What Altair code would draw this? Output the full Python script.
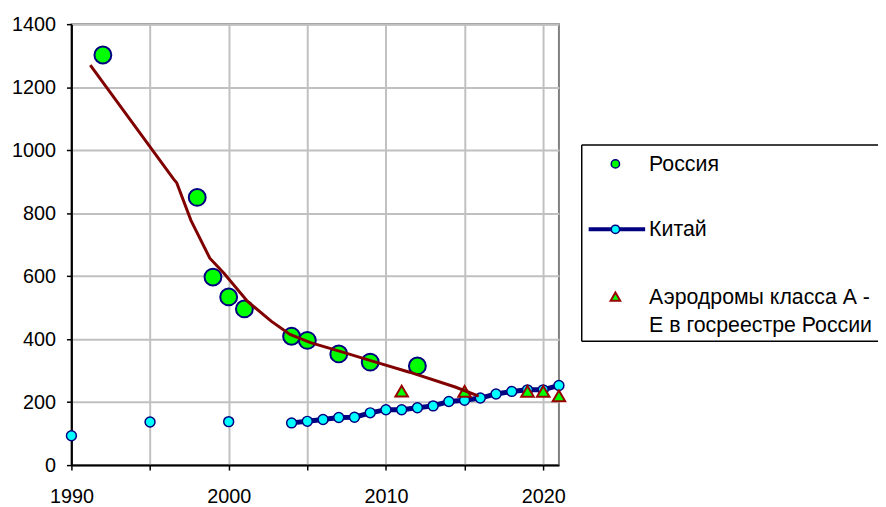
import altair as alt
import pandas as pd

# Russia (points)
russia_years = [1992, 1998, 1999, 2000, 2001, 2004, 2005, 2007, 2009, 2012]
russia_values = [1302, 850, 597, 534, 496, 409, 396, 353, 327, 315]

# Russia trend line
trend_years = [1991.2, 1996.5, 1996.7, 1997.6, 1998.8, 1999.7, 2001.2, 2002.7,
               2003.9, 2005.2, 2007.3, 2009.4, 2011.5, 2014.4, 2015.9]
trend_values = [1270, 908, 896, 777, 657, 609, 520, 457,
                415, 389, 358, 326, 295, 248, 219]

# China
china_years = [1990, 1995, 2000, 2004, 2005, 2006, 2007, 2008, 2009, 2010, 2011, 2012,
               2013, 2014, 2015, 2016, 2017, 2018, 2019, 2020, 2021]
china_values = [93, 137, 138, 134, 139, 145, 151, 152, 166, 176, 176, 182,
                188, 202, 206, 213, 226, 234, 239, 239, 253]

# Aerodromes class A-E
aero_years = [2011, 2015, 2019, 2020, 2021]
aero_values = [235, 234, 234, 234, 220]

legend_labels = ["Россия", "Китай", "Аэродромы класса А -", "Е в госреестре России"]

FONT = "Liberation Sans"
FS = 20
LFS = 21.5
NAVY = "#000080"
LX = 2  # legend horizontal offset

russia_df = pd.DataFrame({"year": russia_years, "value": russia_values})
trend_df = pd.DataFrame({"year": trend_years, "value": trend_values})
china_df = pd.DataFrame({"year": china_years, "value": china_values})
aero_df = pd.DataFrame({"year": aero_years, "value": aero_values})

xenc = alt.X("year:Q",
             scale=alt.Scale(domain=[1990, 2021], nice=False, zero=False),
             axis=alt.Axis(values=[1990, 1995, 2000, 2005, 2010, 2015, 2020], format="d",
                           labelExpr="datum.value % 10 == 0 ? datum.label : ''",
                           labelFlush=False, labelOverlap=False,
                           title=None, labelPadding=17))
yenc = alt.Y("value:Q",
             scale=alt.Scale(domain=[0, 1400], nice=False),
             axis=alt.Axis(values=list(range(0, 1401, 200)), format="d", title=None,
                           labelPadding=11, labelFlush=False, labelOverlap=False))

russia = alt.Chart(russia_df).mark_point(
    shape="circle", filled=True, fill="#00ff00", stroke=NAVY, strokeWidth=2, size=290, opacity=1
).encode(x=xenc, y=yenc)

china_line = alt.Chart(china_df).transform_filter("datum.year >= 2004").mark_line(
    color=NAVY, strokeWidth=5
).encode(x=xenc, y=yenc)

china_pts = alt.Chart(china_df).mark_point(
    shape="circle", filled=True, fill="#00ffff", stroke=NAVY, strokeWidth=1.5, size=100, opacity=1
).encode(x=xenc, y=yenc)

aero = alt.Chart(aero_df).mark_point(
    shape="triangle-up", filled=True, fill="#00ff00", stroke="#990000", strokeWidth=2, size=160, opacity=1
).encode(x=xenc, y=yenc)

trend = alt.Chart(trend_df).mark_line(color="#800000", strokeWidth=3).encode(x=xenc, y=yenc)

# manual legend (box open on the right, as it runs past the picture edge)
one = pd.DataFrame({"k": [0]})
box_l = alt.Chart(one).mark_rule(color="black", strokeWidth=1.5).encode(
    x=alt.value(513 + LX), y=alt.value(122), y2=alt.value(320))
box_t = alt.Chart(one).mark_rule(color="black", strokeWidth=1.5).encode(
    x=alt.value(513 + LX), x2=alt.value(900), y=alt.value(122))
box_b = alt.Chart(one).mark_rule(color="black", strokeWidth=1.5).encode(
    x=alt.value(513 + LX), x2=alt.value(900), y=alt.value(320))
leg_r = alt.Chart(one).mark_point(shape="circle", filled=True, fill="#00ff00", stroke=NAVY,
                                  strokeWidth=1.5, size=70, opacity=1).encode(
    x=alt.value(547 + LX), y=alt.value(141))
leg_cl = alt.Chart(one).mark_rule(color=NAVY, strokeWidth=4).encode(
    x=alt.value(520 + LX), x2=alt.value(577 + LX), y=alt.value(207))
leg_cp = alt.Chart(one).mark_point(shape="circle", filled=True, fill="#00ffff", stroke=NAVY,
                                   strokeWidth=1.5, size=70, opacity=1).encode(
    x=alt.value(547 + LX), y=alt.value(207))
leg_a = alt.Chart(one).mark_point(shape="triangle-up", filled=True, fill="#00ff00", stroke="#990000",
                                  strokeWidth=2, size=95, opacity=1).encode(
    x=alt.value(547 + LX), y=alt.value(275))


def txt(label, y):
    return alt.Chart(one).mark_text(align="left", baseline="middle", font=FONT, fontSize=LFS,
                                    color="black").encode(
        x=alt.value(581 + LX), y=alt.value(y), text=alt.value(label))


chart = alt.layer(
    russia, china_line, china_pts, aero, trend,
    box_l, box_t, box_b, leg_r, leg_cl, leg_cp, leg_a,
    txt(legend_labels[0], 142), txt(legend_labels[1], 208),
    txt(legend_labels[2], 276), txt(legend_labels[3], 305),
).properties(
    width=492, height=445,
    autosize=alt.AutoSizeParams(type="none"),
    padding={"left": 64, "top": 14, "right": 322, "bottom": 45},
).configure_axis(
    domainColor="black", domainWidth=2, tickColor="black", tickWidth=1.5, tickSize=5,
    gridColor="#c0c0c0", gridWidth=2, labelFont=FONT, labelFontSize=FS, labelColor="black",
).configure_view(stroke="#808080", strokeWidth=2)

chart.save("out.html", embed_options={"renderer": "svg", "actions": False})
